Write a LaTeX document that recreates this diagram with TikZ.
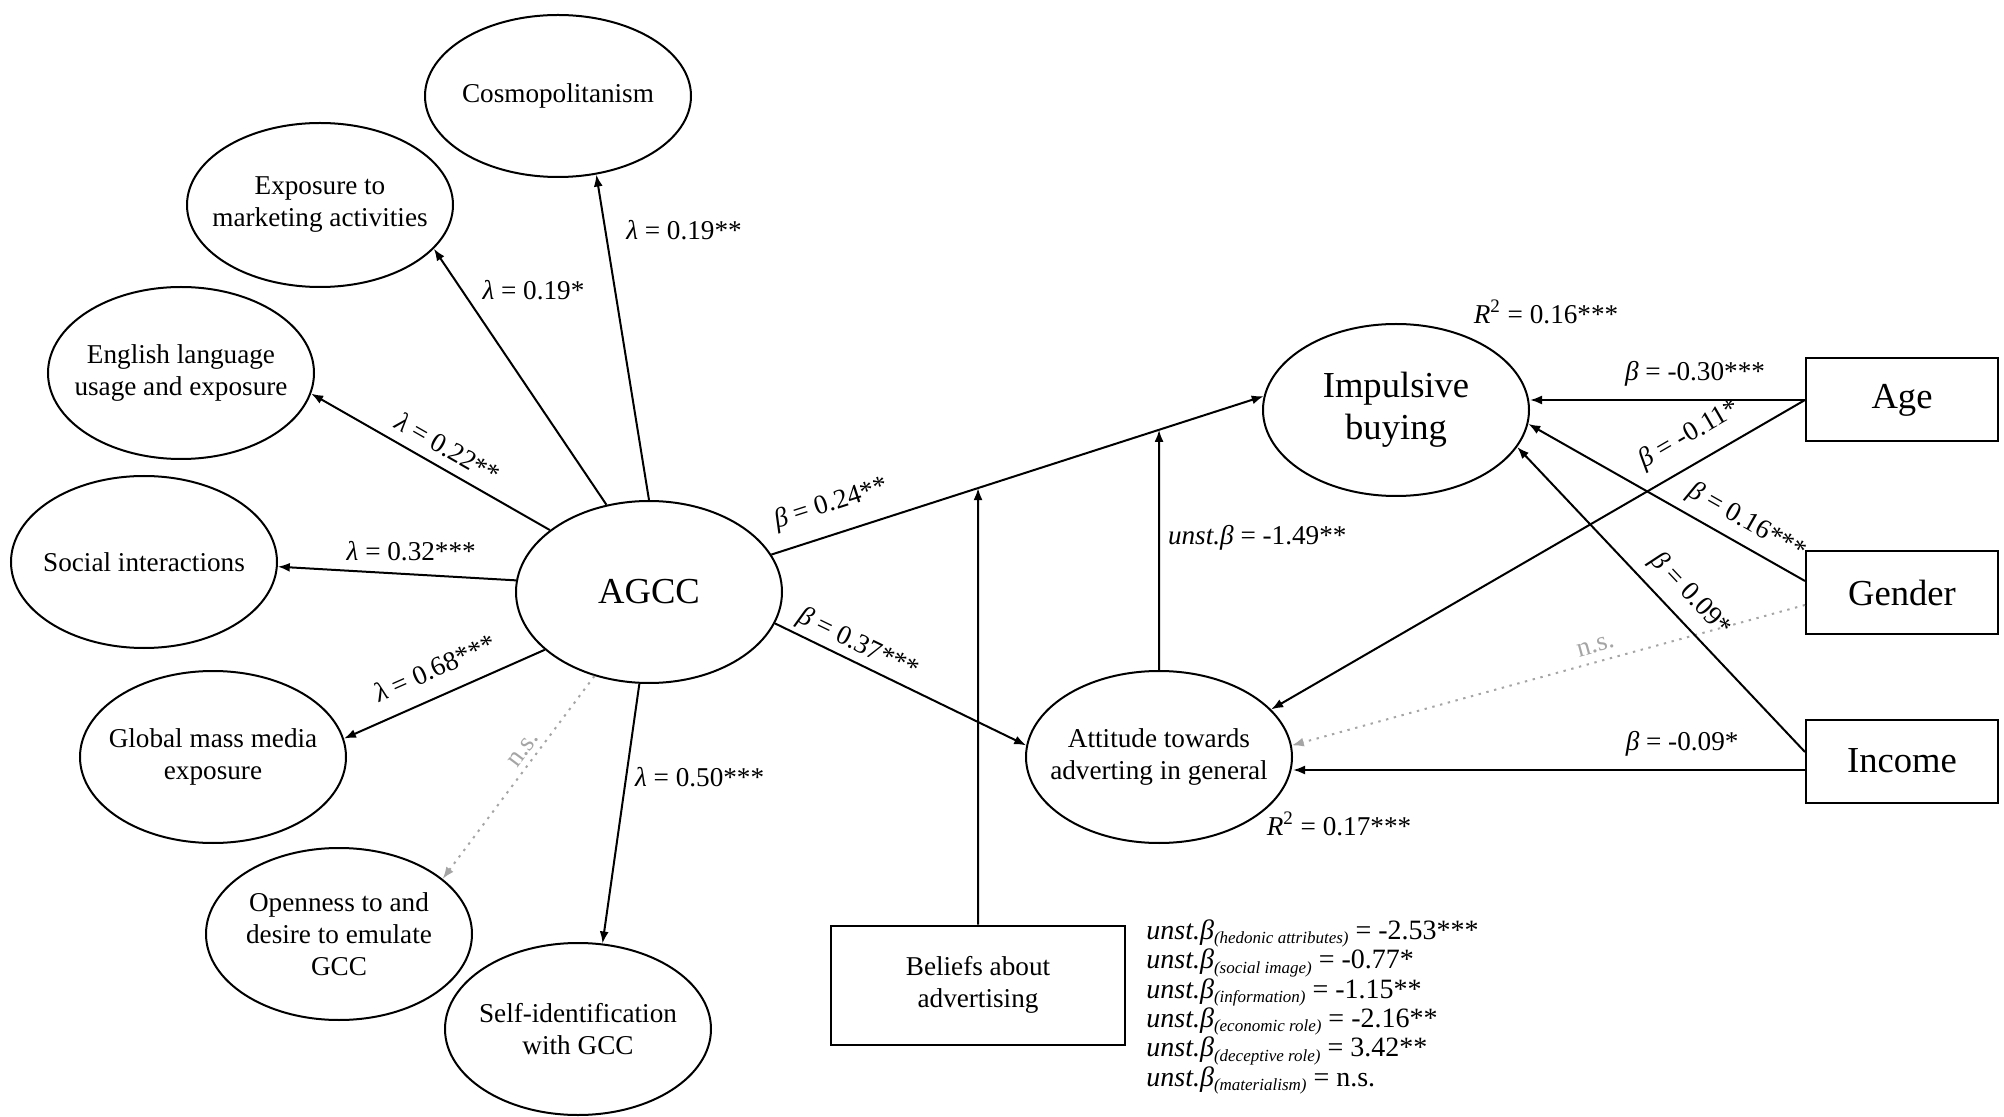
\documentclass[tikz,border=0pt]{standalone}
\usepackage{fontspec}
\setmainfont{Liberation Serif}
\usepackage{tikz}
\usetikzlibrary{positioning,arrows.meta,shapes.geometric,calc}
\definecolor{nsgray}{RGB}{165,165,165}
\newcommand{\lmb}{\textit{λ}}
\newcommand{\bta}{\textit{β}}
\newcommand{\unstb}[1]{\textit{unst.β}\raisebox{-0.35ex}{\fontsize{8.5}{9}\selectfont\itshape(#1)}}
\tikzset{
  lat/.style={ellipse, draw, line width=1pt, minimum width=133pt, minimum height=86pt, inner xsep=-12pt, inner ysep=0pt, align=center, font=\fontsize{13.6}{16}\selectfont},
  latbig/.style={lat, font=\fontsize{18.3}{21}\selectfont},
  obs/.style={draw, line width=1pt, minimum width=96pt, minimum height=41.5pt, align=center, font=\fontsize{18.3}{21}\selectfont},
  modbox/.style={obs, minimum width=147pt, minimum height=59.5pt, font=\fontsize{13.6}{16}\selectfont},
  arr/.style={-{Latex[length=6pt,width=4.5pt]}, line width=1pt},
  nsarr/.style={arr, draw=nsgray, dash pattern=on 1.2pt off 2.8pt},
  lbl/.style={font=\fontsize{13.6}{16}\selectfont, inner sep=1pt},
  nslbl/.style={lbl, text=nsgray},
}
\begin{document}
\begin{tikzpicture}[x=0.5pt, y=-0.5pt]
  \useasboundingbox (0,0) rectangle (2004,1117);
  \node[latbig, minimum height=91pt] (agcc) at (649,592) {AGCC};
  \node[lat, minimum height=81pt] (cosmo) at (558,96) {Cosmopolitanism};
  \node[lat, minimum height=82pt] (expo) at (320,205) {Exposure to\\marketing activities};
  \node[lat] (engl) at (181,373) {English language\\usage and exposure};
  \node[lat] (social) at (144,562) {Social interactions};
  \node[lat] (global) at (213,757) {Global mass media\\exposure};
  \node[lat] (open) at (339,934) {Openness to and\\desire to emulate\\GCC};
  \node[lat] (selfid) at (578,1029) {Self-identification\\with GCC};
  \node[latbig] (impulse) at (1396,410) {Impulsive\\buying};
  \node[lat] (attitude) at (1159,757) {Attitude towards\\adverting in general};
  \node[obs] (age) at (1902,400) {Age};
  \node[obs, below=54pt of age] (gender) {Gender};
  \node[obs, below=41.5pt of gender] (income) {Income};
  \node[modbox] (beliefs) at (978,985) {Beliefs about\\advertising};

  \draw[arr] (agcc.north) -- (cosmo.-64) node[lbl, pos=0.83, right=9pt] {\lmb{} = 0.19**};
  \draw[arr] (agcc.116) -- (expo.-21) node[lbl, pos=0.84, right=9pt] {\lmb{} = 0.19*};
  \draw[arr] (agcc.148) -- (engl.-9) node[lbl, pos=0.47, sloped, above=4pt] {\lmb{} = 0.22**};
  \draw[arr] (agcc.175) -- (social.-2) node[lbl, pos=0.44, above=5pt] {\lmb{} = 0.32***};
  \draw[arr] (agcc.209) -- (global.8) node[lbl, pos=0.49, sloped, above=7.5pt] {\lmb{} = 0.68***};
  \draw[nsarr] (agcc.237) -- (open.28) node[nslbl, pos=0.4, sloped, above=1.5pt] {n.s.};
  \draw[arr] (agcc.-96) -- (selfid.74) node[lbl, pos=0.36, right=3pt] {\lmb{} = 0.50***};

  \draw[arr] (agcc.17) -- (impulse.174) node[lbl, pos=0.14, sloped, above=7pt] {\bta{} = 0.24**};
  \draw[arr] (agcc.-14) -- (attitude.175) node[lbl, pos=0.30, sloped, above=1pt] {\bta{} = 0.37***};
  \draw[arr] (beliefs.north) -- (intersection of agcc.17--impulse.174 and beliefs.north--beliefs.south);
  \draw[arr] (attitude.north) -- (intersection of agcc.17--impulse.174 and attitude.north--attitude.south)
    node[lbl, pos=0.55, right=3pt] {\textit{unst.β} = -1.49**};

  \draw[arr] (age.west) -- (age.west -| impulse.east) node[lbl, pos=0.4, above=5.5pt] {\bta{} = -0.30***};
  \draw[arr] (age.west) -- (attitude.23) node[lbl, pos=0.19, sloped, above=6pt] {\bta{} = -0.11*};
  \draw[arr] ([yshift=6pt]gender.west) -- (impulse.-6) node[lbl, pos=0.25, sloped, above=3.5pt] {\bta{} = 0.16***};
  \draw[nsarr] ([yshift=-6pt]gender.west) -- (attitude.5) node[nslbl, pos=0.4, sloped, above=3pt] {n.s.};
  \draw[arr] ([yshift=4.5pt]income.west) -- (impulse.-17) node[lbl, pos=0.46, sloped, above=4.5pt] {\bta{} = 0.09*};
  \draw[arr] ([yshift=-4.5pt]income.west) -- ([yshift=-4.5pt]income.west -| attitude.east)
    node[lbl, pos=0.24, above=5.5pt] {\bta{} = -0.09*};

  \node[lbl] (r2imp) at (1546,312) {\textit{R}\textsuperscript{2} = 0.16***};
  \node[lbl] (r2att) at (1339,824) {\textit{R}\textsuperscript{2} = 0.17***};
  \node[lbl, anchor=west, align=left, inner sep=0pt, font={\fontsize{14}{14.7}\selectfont\lineskiplimit=-10pt}] (coefs) at (1146,1007)
    {\unstb{hedonic attributes} = -2.53***\\
     \unstb{social image} = -0.77*\\
     \unstb{information} = -1.15**\\
     \unstb{economic role} = -2.16**\\
     \unstb{deceptive role} = 3.42**\\
     \unstb{materialism} = n.s.};
\end{tikzpicture}
\end{document}
